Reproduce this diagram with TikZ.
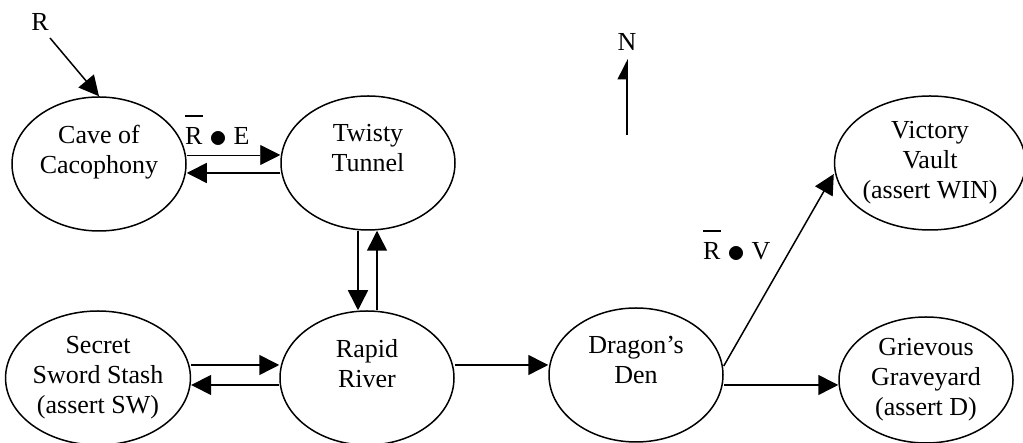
\documentclass[tikz,border=0pt]{standalone}
\usepackage{fontspec}
\usepackage{graphicx}
\setmainfont{Liberation Serif}
\usetikzlibrary{shapes.geometric,arrows.meta}
\newcommand{\barR}{\makebox[0pt][l]{\rule[28pt]{18pt}{1.5pt}}R}
\newcommand{\bigdot}{\raisebox{-2.5pt}{\scalebox{1.45}{$\bullet$}}}
\tikzset{
  room/.style={draw, line width=1.5pt, ellipse, minimum width=174pt, minimum height=134pt, inner sep=0pt, align=center, font=\fontsize{26}{30}\selectfont},
  conn/.style={line width=1.5pt, -{Triangle[length=20pt,width=20pt]}},
  thinconn/.style={line width=0.8pt, -{Triangle[length=20pt,width=20pt]}},
  lab/.style={inner sep=0pt, font=\fontsize{26}{30}\selectfont},
}
\begin{document}
\begin{tikzpicture}[x=1pt,y=1pt]
\useasboundingbox (0,0) rectangle (1023,443);
\node[room] (cave) at (99,279) {Cave of\\Cacophony\\\mbox{}};
\node[room] (twisty) at (368,280) {Twisty\\Tunnel\\\mbox{}};
\node[room, minimum width=182pt] (victory) at (930,280) {Victory\\Vault\\(assert WIN)};
\node[room] (secret) at (98,65) {Secret\\Sword Stash\\(assert SW)};
\node[room] (rapid) at (367,65) {Rapid\\River\\\mbox{}};
\node[room] (dragon) at (636,68) {Dragon’s\\Den\\\mbox{}};
\node[room, minimum height=126pt] (grievous) at (926,63) {Grievous\\Graveyard\\(assert D)};

\node[lab] (rlab) at (40,421) {R};
\coordinate (rstart) at (50,405);
\draw[conn] (rstart) -- (cave.north);

\node[lab] (nlab) at (627,401) {N};
\coordinate (nbot) at (627,308);
\coordinate (ntop) at (627,384);
\draw[line width=1.5pt, -{Triangle[harpoon,length=19pt,width=19pt]}] (nbot) -- (ntop);

\node[lab, anchor=base west] (relab) at (185,298) {\barR{} \bigdot{} E};
\node[lab, anchor=base west] (rvlab) at (703,183) {\barR{} \bigdot{} V};

\draw[thinconn] ([yshift=9pt]cave.east) -- ([yshift=8pt]twisty.west);
\draw[conn] ([yshift=-10pt]twisty.west) -- ([yshift=-9pt]cave.east);
\draw[conn] ([xshift=-10pt]twisty.south) -- ([xshift=-9pt]rapid.north);
\draw[conn] ([xshift=10pt]rapid.north) -- ([xshift=9pt]twisty.south);
\draw[conn] ([yshift=13pt]secret.east) -- ([yshift=13pt]rapid.west);
\draw[conn] ([yshift=-7pt]rapid.west) -- ([yshift=-7pt]secret.east);
\draw[conn] ([yshift=13pt]rapid.east) -- ([yshift=10pt]dragon.west);
\draw[conn] ([yshift=-10pt]dragon.east) -- ([yshift=-5pt]grievous.west);
\draw[conn] ([yshift=9pt]dragon.east) -- ([yshift=-11pt]victory.west);
\end{tikzpicture}
\end{document}
